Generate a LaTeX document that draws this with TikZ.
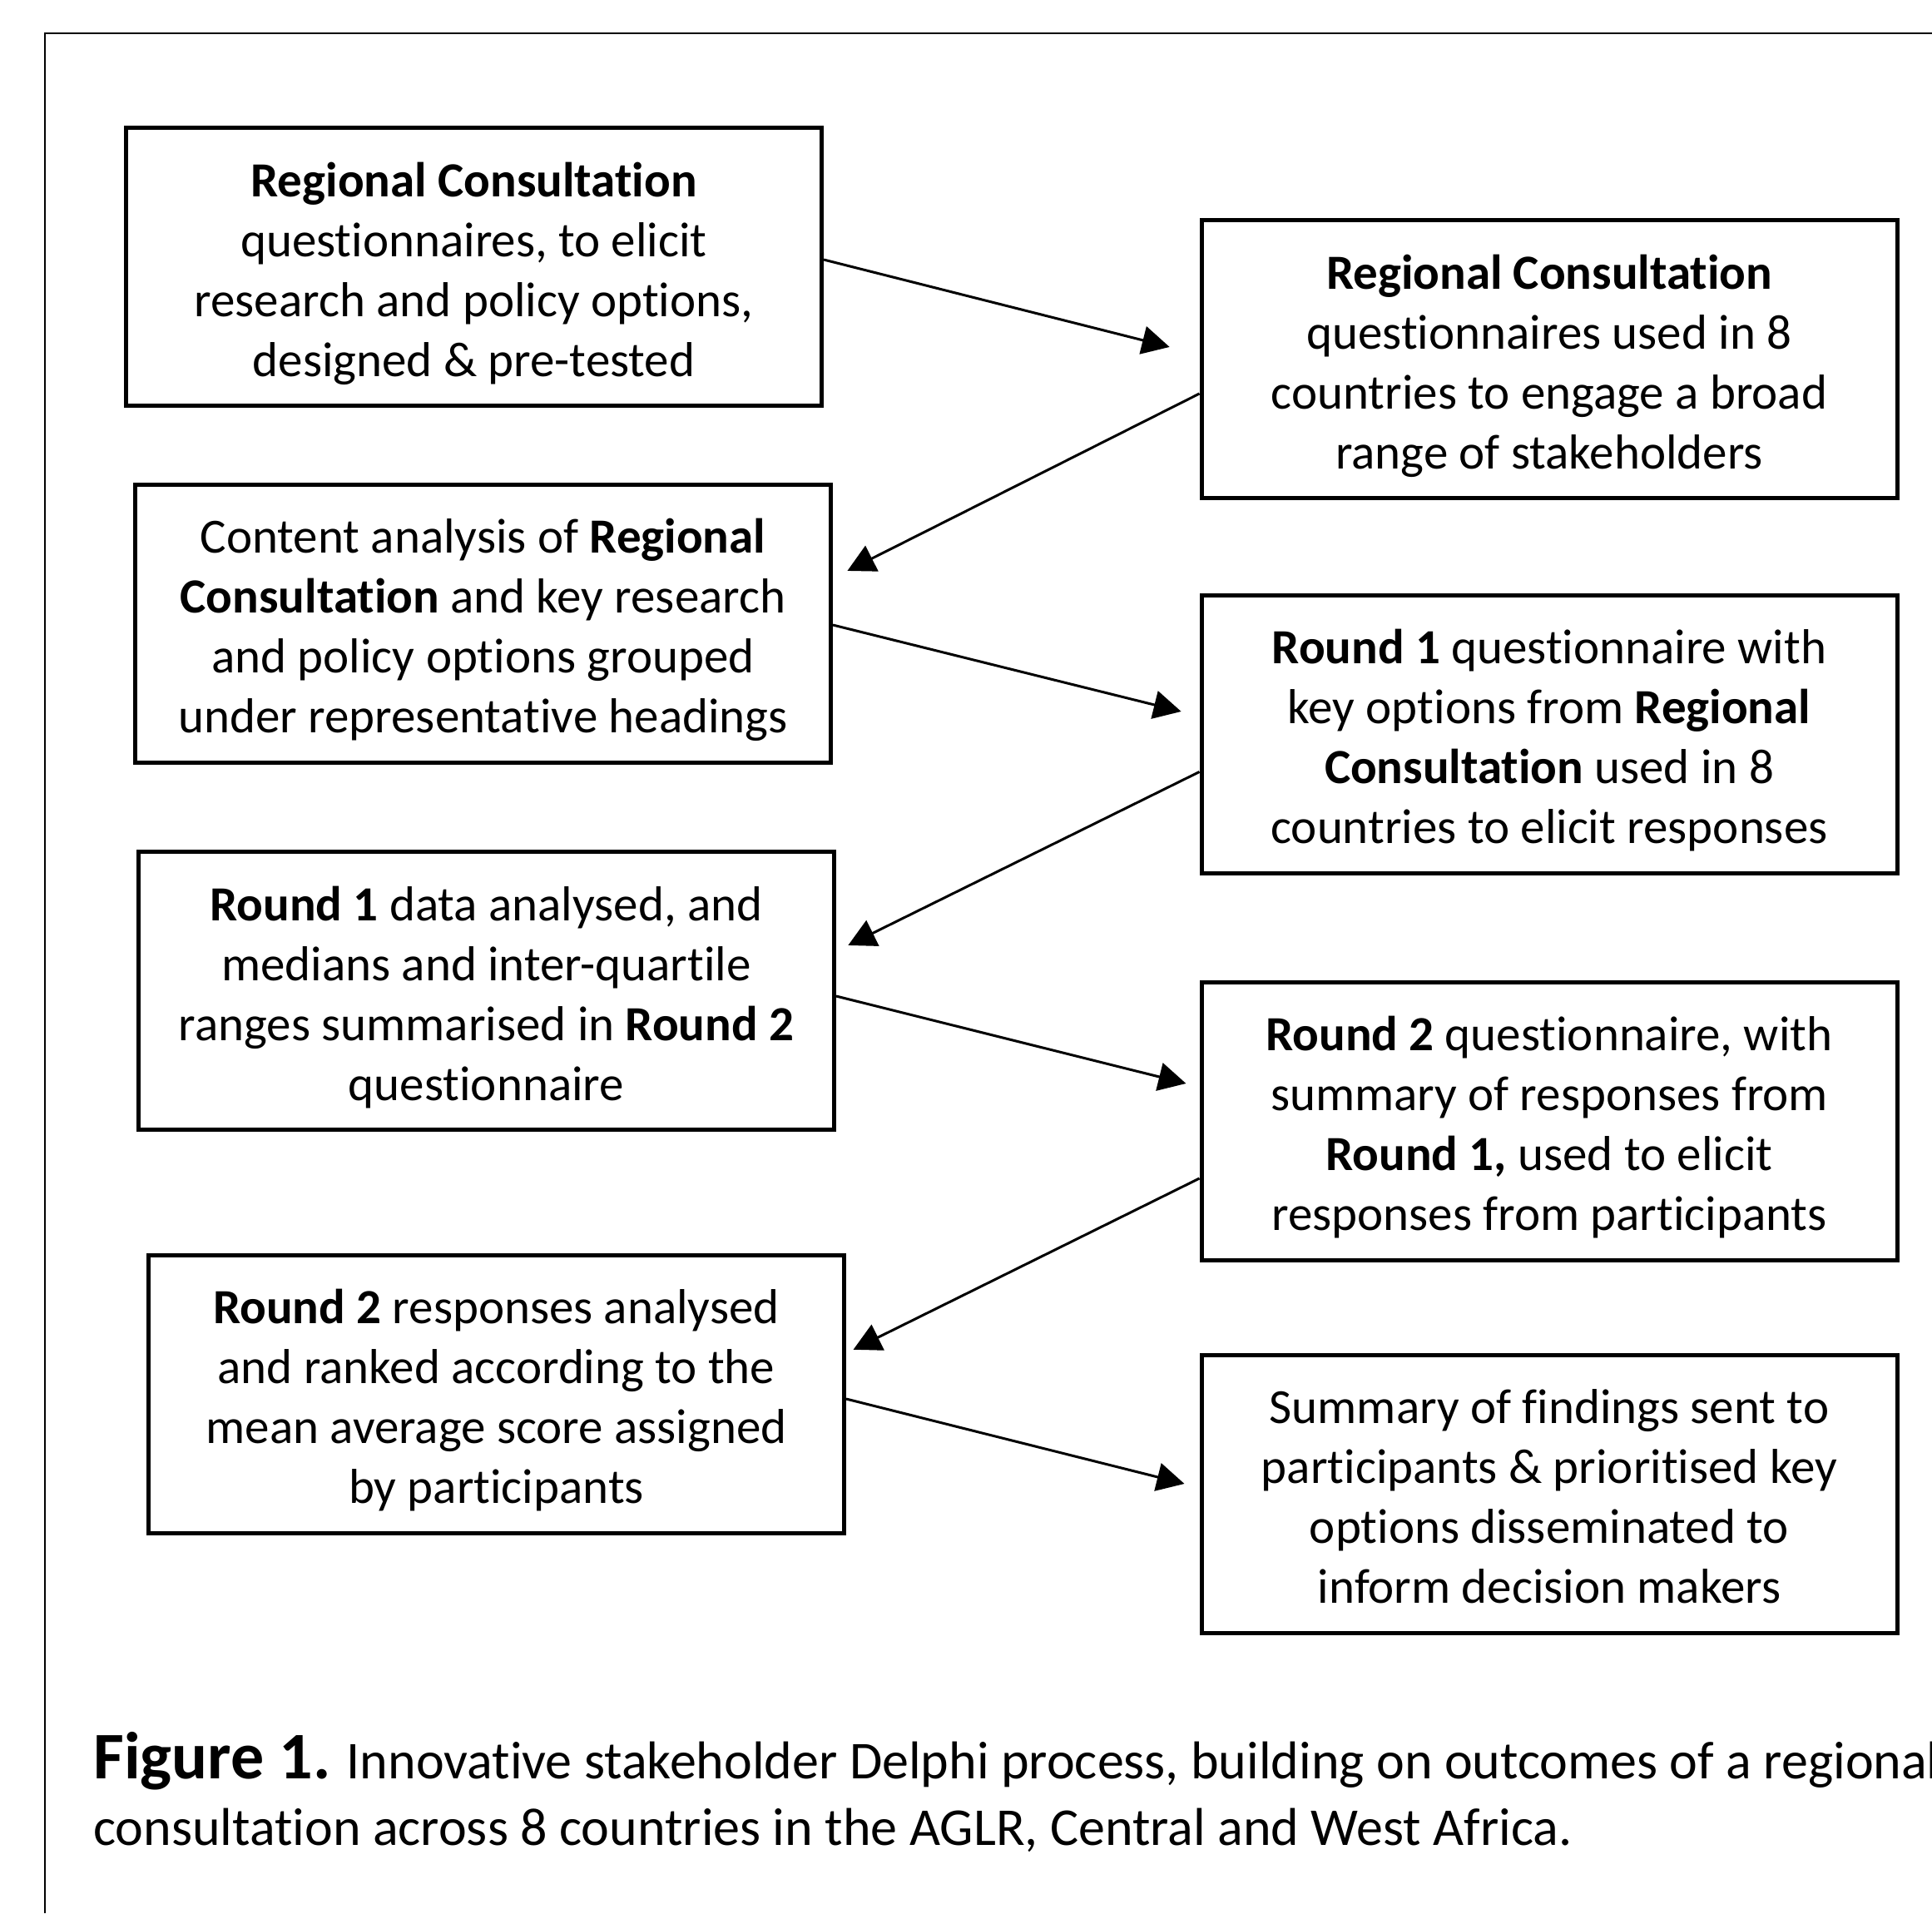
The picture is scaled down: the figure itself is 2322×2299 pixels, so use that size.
\documentclass[tikz,border=0pt]{standalone}
\usepackage{fontspec}
\setmainfont{Carlito}[Ligatures=NoCommon]
\usetikzlibrary{arrows.meta,calc}

\tikzset{
  stage/.style={draw=black, line width=2.5pt, rectangle, inner sep=0pt,
    minimum width=418pt, minimum height=167pt, align=center,
    text height=131.8pt, text depth=0pt,
    font=\fontsize{29.5pt}{36pt}\selectfont},
  flow/.style={draw=black, line width=1.5pt, -{Triangle[length=16.5pt,width=17pt]}},
  frameline/.style={draw=black, line width=1pt},
}

\begin{document}
\begin{tikzpicture}[x=0.5pt, y=-0.5pt]
\useasboundingbox (0,0) rectangle (2322,2299);
\fill[white] (0,0) rectangle (2322,2299);

% outer frame, open to the right and bottom
\coordinate (fb) at (54,2299);
\coordinate (fc) at (54,40);
\coordinate (fr) at (2322,40);
\draw[frameline] (fb) -- (fc) -- (fr);

% process stages, alternating left and right
\node[stage] (b1) at (569.5,320.5) {\textbf{Regional Consultation}\\questionnaires, to elicit\\research and policy options,\\designed \& pre-tested};
\node[stage] (b2) at (1862,431.5) {\textbf{Regional Consultation}\\questionnaires used in 8\\countries to engage a broad\\range of stakeholders};
\node[stage] (b3) at (580.5,749) {Content analysis of \textbf{Regional}\\\textbf{Consultation} and key research\\and policy options grouped\\under representative headings};
\node[stage] (b4) at (1862,882) {\textbf{Round 1} questionnaire with\\key options from \textbf{Regional}\\\textbf{Consultation} used in 8\\countries to elicit responses};
\node[stage] (b5) at (584.5,1190.5) {\textbf{Round 1} data analysed, and\\medians and inter-quartile\\ranges summarised in \textbf{Round 2}\\questionnaire};
\node[stage] (b6) at (1862,1347) {\textbf{Round 2} questionnaire, with\\summary of responses from\\\textbf{Round 1,} used to elicit\\responses from participants};
\node[stage] (b7) at (596.5,1675) {\textbf{Round 2} responses analysed\\and ranked according to the\\mean average score assigned\\by participants};
\node[stage] (b8) at (1862,1795) {Summary of findings sent to\\participants \& prioritised key\\options disseminated to\\inform decision makers};

% connectors
\draw[flow, shorten >=18.5pt] ($(b1.east)+(0,-8.5)$) -- ($(b2.west)+(0,-5.5)$);
\draw[flow, shorten >=9.75pt] ($(b2.west)+(0,41.5)$) -- ($(b3.east)+(0,-54.3)$);
\draw[flow, shorten >=11.3pt] ($(b3.east)+(0,2)$) -- ($(b4.west)+(0,-21.6)$);
\draw[flow, shorten >=8pt] ($(b4.west)+(0,45.5)$) -- ($(b5.east)+(0,-47.5)$);
\draw[flow, shorten >=8.3pt] ($(b5.east)+(0,6.5)$) -- ($(b6.west)+(0,-41)$);
\draw[flow, shorten >=4.8pt] ($(b6.west)+(0,69)$) -- ($(b7.east)+(0,-49)$);
\draw[flow, shorten >=9.3pt] ($(b7.east)+(0,6)$) -- ($(b8.west)+(0,-7.5)$);

% caption
\node[anchor=base west, inner sep=0pt, align=left,
  font=\fontsize{32pt}{40pt}\selectfont] (cap) at (112,2217)
  {{\fontsize{40pt}{40pt}\selectfont\textbf{Figure 1.}} Innovative stakeholder Delphi process, building on outcomes of a regional\\consultation across 8 countries in the AGLR, Central and West Africa.};
\end{tikzpicture}
\end{document}
